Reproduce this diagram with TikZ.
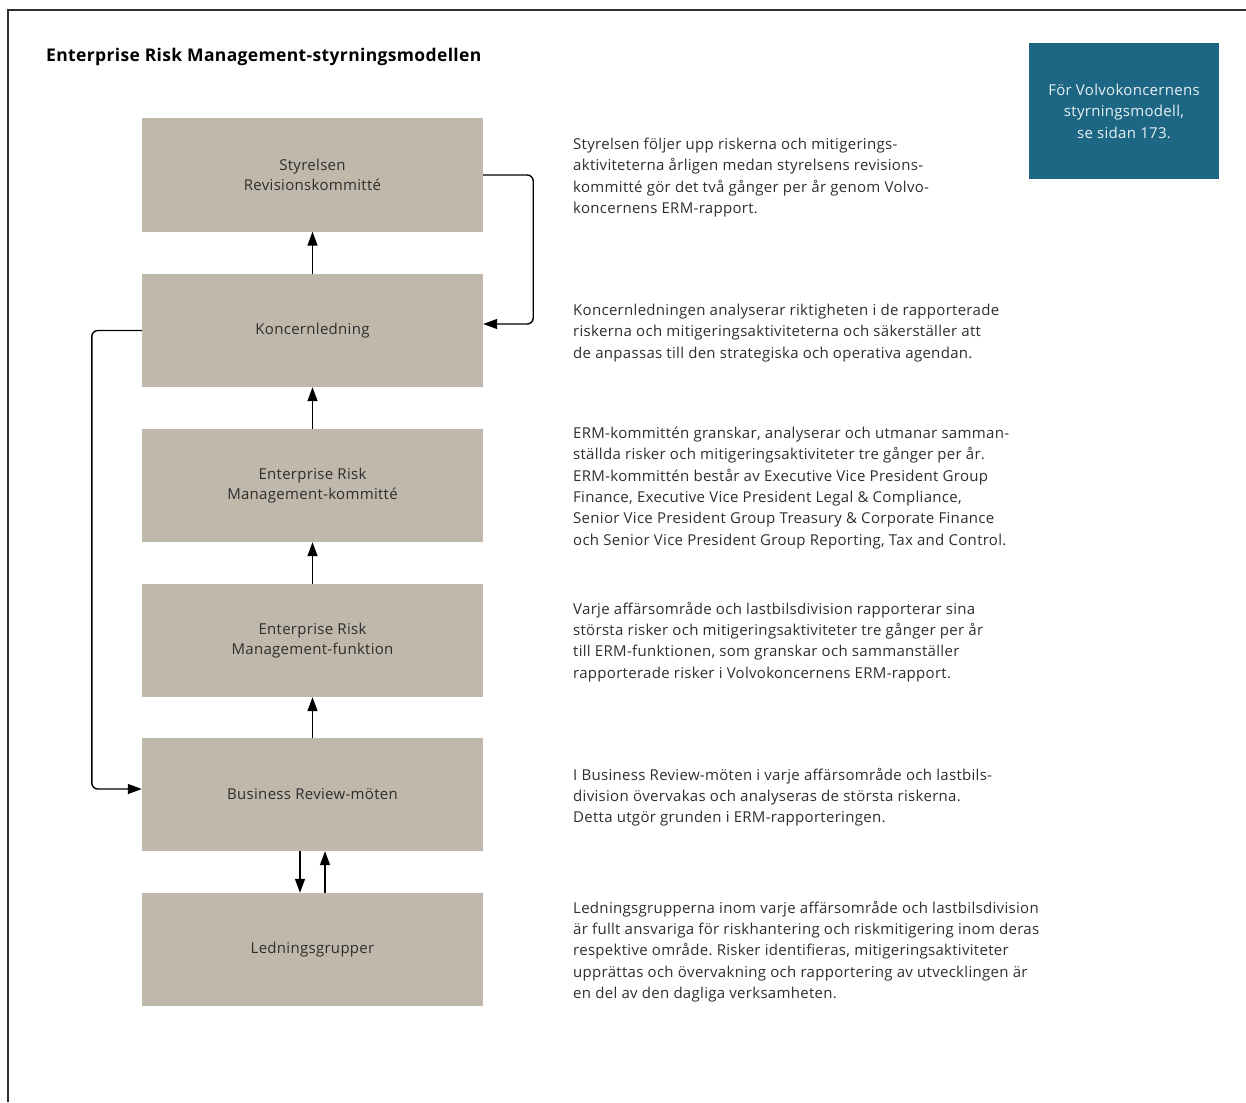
\documentclass[tikz,border=0pt]{standalone}
\usepackage{fontspec}
\setmainfont{Open Sans}[LetterSpace=2.0]
\usetikzlibrary{arrows.meta}
\definecolor{boxgray}{HTML}{C0B8AB}
\definecolor{volvoblue}{HTML}{1D6784}
\definecolor{textgray}{HTML}{2E2E2E}
\frenchspacing

\begin{document}
\begin{tikzpicture}[x=1pt, y=-1pt,
    level/.style={fill=boxgray, minimum width=341pt, minimum height=113pt, inner sep=0pt,
        align=center, text=textgray, font=\fontsize{15}{19.5}\selectfont},
    desc/.style={anchor=west, align=left, inner sep=0pt, text=textgray,
        font=\fontsize{15}{21.3}\selectfont},
    flow/.style={-{Triangle[length=14pt, width=10pt]}, line width=1.4pt, black},
    loop/.style={flow, rounded corners=6pt}]
    \useasboundingbox (0,0) rectangle (1246,1102);

    % Ram
    \draw[line width=1.3pt, textgray] (8,1102) -- (8,10) -- (1246,10);

    % Rubrik
    \node[anchor=base west, inner sep=0pt, font=\fontseries{sb}\selectfont\fontsize{17.5}{21}\selectfont] (titel) at (46,62)
        {Enterprise Risk Management-styrningsmodellen};

    % Hänvisning
    \node[fill=volvoblue, minimum width=190pt, minimum height=136pt, inner sep=0pt, align=center,
        text=white!90!volvoblue, font=\fontsize{15}{21.5}\selectfont] (hanvisning) at (1124,111)
        {För Volvokoncernens\\styrningsmodell,\\se sidan 173.};

    % Nivåer
    \node[level] (styrelsen) at (312.5,175) {Styrelsen\\Revisionskommitté};
    \node[level] (koncern)   at (312.5,330.5) {Koncernledning};
    \node[level] (ermkomm)   at (312.5,485.5) {Enterprise Risk\\Management-kommitté};
    \node[level] (ermfunk)   at (312.5,640.5) {Enterprise Risk\\Management-funktion};
    \node[level] (bizreview) at (312.5,794.5) {Business Review-möten};
    \node[level] (ledgrupp)  at (312.5,949.5) {Ledningsgrupper};

    % Pilar uppåt
    \draw[flow] (koncern.north) -- (styrelsen.south);
    \draw[flow] (ermkomm.north) -- (koncern.south);
    \draw[flow] (ermfunk.north) -- (ermkomm.south);
    \draw[flow] (bizreview.north) -- (ermfunk.south);
    \draw[flow] ([xshift=-12.5pt]bizreview.south) -- ([xshift=-12.5pt]ledgrupp.north);
    \draw[flow] ([xshift=12.5pt]ledgrupp.north) -- ([xshift=12.5pt]bizreview.south);

    % Återkopplingar
    \draw[loop] (styrelsen.east) -- ++(50,0) |- ([yshift=6.5pt]koncern.east);
    \draw[loop] (koncern.west) -- ++(-50,0) |- ([yshift=5.5pt]bizreview.west);

    % Beskrivningar
    \node[desc] (txtstyrelsen) at (573,177.5) {Styrelsen följer upp riskerna och mitigerings-\\
        aktiviteterna årligen medan styrelsens revisions-\\
        kommitté gör det två gånger per år genom Volvo-\\
        koncernens ERM-rapport.};
    \node[desc] (txtkoncern) at (573,333) {Koncernledningen analyserar riktigheten i de rapporterade\\
        riskerna och mitigeringsaktiviteterna och säkerställer att\\
        de anpassas till den strategiska och operativa agendan.};
    \node[desc] (txtermkomm) at (573,488) {ERM-kommittén granskar, analyserar och utmanar samman-\\
        ställda risker och mitigeringsaktiviteter tre gånger per år.\\
        ERM-kommittén består av Executive Vice President Group\\
        Finance, Executive Vice President Legal \& Compliance,\\
        Senior Vice President Group Treasury \& Corporate Finance\\
        och Senior Vice President Group Reporting, Tax and Control.};
    \node[desc] (txtermfunk) at (573,642) {Varje affärsområde och lastbilsdivision rapporterar sina\\
        största risker och mitigeringsaktiviteter tre gånger per år\\
        till ERM-funktionen, som granskar och sammanställer\\
        rapporterade risker i Volvokoncernens ERM-rapport.};
    \node[desc] (txtbizreview) at (573,797) {I Business Review-möten i varje affärsområde och lastbils-\\
        division övervakas och analyseras de största riskerna.\\
        Detta utgör grunden i ERM-rapporteringen.};
    \node[desc] (txtledgrupp) at (573,951.5) {Ledningsgrupperna inom varje affärsområde och lastbilsdivision\\
        är fullt ansvariga för riskhantering och riskmitigering inom deras\\
        respektive område. Risker identifieras, mitigeringsaktiviteter\\
        upprättas och övervakning och rapportering av utvecklingen är\\
        en del av den dagliga verksamheten.};
\end{tikzpicture}
\end{document}
